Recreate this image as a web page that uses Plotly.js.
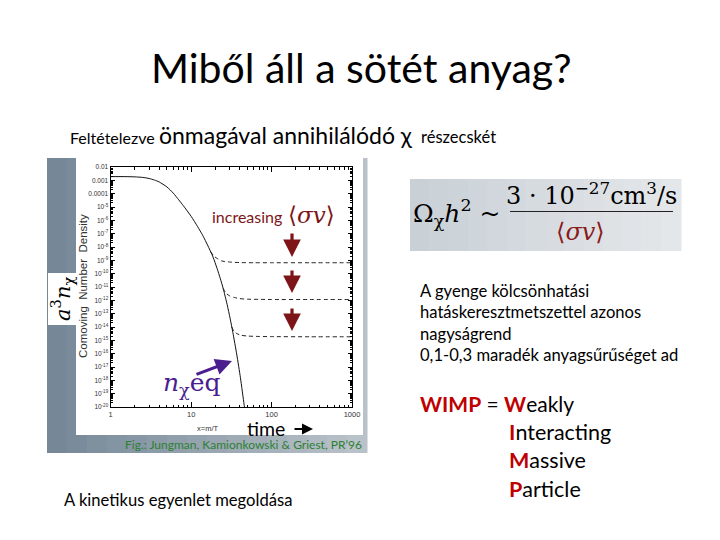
<!DOCTYPE html>
<html>
<head>
<meta charset="utf-8">
<script src="https://cdn.plot.ly/plotly-3.0.1.min.js"></script>
<style>html,body{margin:0;padding:0;background:#fff;}#chart{width:720px;height:540px;}</style>
</head>
<body>
<div id="chart"></div>
<script>
// ---- data ----
const eqX = [1, 1.5, 2, 2.5, 3, 3.5, 4, 5, 6, 7, 8, 10, 12, 14, 16, 18.7, 21, 23, 25, 28, 30.5, 33, 37, 41, 45.5, 46];
const eqY = [1.9e-3, 1.9e-3, 1.82e-3, 1.66e-3, 1.38e-3, 1.05e-3, 7.6e-4, 3.2e-4, 1.1e-4, 3.5e-5, 1.26e-5, 2e-6, 3.5e-7, 7e-8, 1.4e-8, 1.8e-9, 2.5e-10, 4.5e-11, 8e-12, 5e-13, 4.5e-14, 4e-15, 8e-17, 1.6e-18, 1.6e-20, 1e-20];

const fo1X = [17.5, 19, 21, 24, 30, 40, 60, 100, 300, 1000];
const fo1Y = [4.5e-9, 2.2e-9, 1.4e-9, 9e-10, 7.5e-10, 6.8e-10, 6.6e-10, 6.6e-10, 6.6e-10, 6.6e-10];
const fo2X = [25, 27, 30, 35, 40, 50, 70, 100, 300, 1000];
const fo2Y = [8e-12, 3.5e-12, 2.2e-12, 1.6e-12, 1.35e-12, 1.22e-12, 1.18e-12, 1.15e-12, 1.15e-12, 1.15e-12];
const fo3X = [32, 34, 37, 42, 50, 70, 100, 300, 1000];
const fo3Y = [1e-14, 5e-15, 3.2e-15, 2.4e-15, 2.1e-15, 1.95e-15, 1.9e-15, 1.85e-15, 1.85e-15];

const xTickVals = [1, 10, 100, 1000];
const xTickText = ["1", "10", "100", "1000"];
const yTickVals = [1e-2,1e-3,1e-4,1e-5,1e-6,1e-7,1e-8,1e-9,1e-10,1e-11,1e-12,1e-13,1e-14,1e-15,1e-16,1e-17,1e-18,1e-19,1e-20];
const yTickText = ["0.01","0.001","0.0001","10<sup>-5</sup>","10<sup>-6</sup>","10<sup>-7</sup>","10<sup>-8</sup>","10<sup>-9</sup>","10<sup>-10</sup>","10<sup>-11</sup>","10<sup>-12</sup>","10<sup>-13</sup>","10<sup>-14</sup>","10<sup>-15</sup>","10<sup>-16</sup>","10<sup>-17</sup>","10<sup>-18</sup>","10<sup>-19</sup>","10<sup>-20</sup>"];

const slideTitle = "Miből áll a sötét anyag?";
const textLines = ["A gyenge kölcsönhatási", "hatáskeresztmetszettel azonos", "nagyságrend", "0,1-0,3 maradék anyagsűrűséget ad"];

// ---- helpers ----
const W = 720, H = 540;
const fx = v => v / W;
const fy = v => 1 - v / H;
const SANS = "Lato, 'Open Sans', sans-serif";
const SERIF = "'DejaVu Serif', 'Liberation Serif', serif";
const HELV = "'Liberation Sans', Arial, sans-serif";
const RED = "#c00000";
const DARKRED = "#7d1518";
const PURPLE = "#4b1d8f";

function txt(x, y, text, size, opts) {
  return Object.assign({
    xref: 'paper', yref: 'paper', x: fx(x), y: fy(y), text: text, showarrow: false,
    xanchor: 'left', yanchor: 'middle',
    font: {family: SANS, size: size, color: '#000'}
  }, opts || {});
}
function arrow(hx, hy, tx, ty, color, width) {
  return {
    xref: 'paper', yref: 'paper', x: fx(hx), y: fy(hy), ax: tx - hx, ay: ty - hy,
    text: '', showarrow: true, arrowhead: 2, arrowsize: 1.1, arrowwidth: width, arrowcolor: color,
    standoff: 0, startstandoff: 0
  };
}
function mix(c1, c2, t) {
  const a = [1,3,5].map(i => parseInt(c1.substr(i,2),16));
  const b = [1,3,5].map(i => parseInt(c2.substr(i,2),16));
  return 'rgb(' + a.map((v,k) => Math.round(v + (b[k]-v)*t)).join(',') + ')';
}
function gradientRects(x0, x1, y0, y1, c1, c2, n) {
  const out = [];
  for (let i = 0; i < n; i++) {
    const a = x0 + (x1 - x0) * i / n, b = x0 + (x1 - x0) * (i + 1) / n + 0.5;
    out.push({type: 'rect', xref: 'paper', yref: 'paper', x0: fx(a), x1: fx(b), y0: fy(y1), y1: fy(y0),
      fillcolor: mix(c1, c2, i / (n - 1)), line: {width: 0}, layer: 'below'});
  }
  return out;
}

const dashed = {color: '#222', width: 1, dash: '4px,3px'};
const traces = [
  {x: eqX, y: eqY, type: 'scatter', mode: 'lines', line: {color: '#111', width: 1, shape: 'spline', smoothing: 0.6}, hoverinfo: 'skip'},
  {x: fo1X, y: fo1Y, type: 'scatter', mode: 'lines', line: Object.assign({shape: 'spline', smoothing: 0.6}, dashed), hoverinfo: 'skip'},
  {x: fo2X, y: fo2Y, type: 'scatter', mode: 'lines', line: Object.assign({shape: 'spline', smoothing: 0.6}, dashed), hoverinfo: 'skip'},
  {x: fo3X, y: fo3Y, type: 'scatter', mode: 'lines', line: Object.assign({shape: 'spline', smoothing: 0.6}, dashed), hoverinfo: 'skip'}
];

const shapes = [].concat(
  // picture frame of the figure (gray, lighter towards the right)
  gradientRects(47, 367, 158, 453, '#768898', '#b9c2c8', 16),
  [
    {type: 'rect', xref: 'paper', yref: 'paper', x0: fx(76), x1: fx(363), y0: fy(435), y1: fy(158), fillcolor: '#ffffff', line: {width: 0}, layer: 'below'},
    {type: 'rect', xref: 'paper', yref: 'paper', x0: fx(48), x1: fx(76), y0: fy(325), y1: fy(273), fillcolor: '#ffffff', line: {width: 0}, layer: 'below'}
  ],
  // formula box (light gray gradient)
  gradientRects(410, 681, 179, 251, '#c9d0d6', '#e4e7ea', 14),
  [
    {type: 'line', xref: 'paper', yref: 'paper', x0: fx(510), x1: fx(673), y0: fy(211.5), y1: fy(211.5), line: {color: '#222', width: 1}}
  ]
);

const annotations = [
  txt(361, 67, slideTitle, 41, {xanchor: 'center'}),
  txt(68, 137, "Feltételezve", 16),
  txt(157, 135, "önmagával annihilálódó χ", 23),
  txt(419, 137, "részecskét", 16.5),
  // inside the figure
  txt(83, 286, "Comoving  Number  Density", 11.5, {textangle: -90, xanchor: 'center', font: {family: HELV, size: 11.5, color: '#333'}}),
  txt(62, 299, "<i>a</i><sup>3</sup><i>n</i><sub>χ</sub>", 21, {textangle: -90, xanchor: 'center', font: {family: SERIF, size: 21, color: '#000'}}),
  txt(210, 216, "increasing", 16, {font: {family: SANS, size: 16, color: DARKRED}}),
  txt(286, 215, "⟨<i>σv</i>⟩", 23, {font: {family: SERIF, size: 23, color: DARKRED}}),
  txt(161, 384, "<i>n</i><sub>χ</sub>eq", 25, {font: {family: SERIF, size: 25, color: PURPLE}}),
  txt(208, 428, "x=m/T", 7.5, {xanchor: 'center', font: {family: HELV, size: 7.5, color: '#333'}}),
  txt(245, 428, "time", 19.5, {font: {family: SANS, size: 19.5, color: '#000'}}),
  arrow(313, 429, 293, 429, '#000', 2),
  txt(364, 444, "Fig.: Jungman, Kamionkowski &amp; Griest, PR’96", 12, {xanchor: 'right', font: {family: SANS, size: 12, color: '#2c7f33'}}),
  arrow(292, 257, 292, 232, DARKRED, 3.2),
  arrow(292, 293, 292, 269, DARKRED, 3.2),
  arrow(292, 331, 292, 307, DARKRED, 3.2),
  arrow(232, 361, 195, 375, PURPLE, 3),
  // formula
  txt(411, 213, "Ω<sub>χ</sub><i>h</i><sup>2</sup> ~", 25, {font: {family: SERIF, size: 25, color: '#000'}}),
  txt(591, 194, "3 · 10<sup>−27</sup>cm<sup>3</sup>/s", 24, {xanchor: 'center', font: {family: SERIF, size: 24, color: '#000'}}),
  txt(580, 232, "⟨<i>σv</i>⟩", 24, {xanchor: 'center', font: {family: SERIF, size: 24, color: '#8b1a1a'}}),
  // text block
  txt(418, 291, textLines[0], 16.6),
  txt(418, 312, textLines[1], 16.6),
  txt(418, 334, textLines[2], 16.6),
  txt(418, 355, textLines[3], 16.6),
  txt(418, 403, "<b style='color:" + RED + "'>WIMP</b> = <b style='color:" + RED + "'>W</b>eakly", 21),
  txt(507, 432, "<b style='color:" + RED + "'>I</b>nteracting", 21.5),
  txt(507, 460, "<b style='color:" + RED + "'>M</b>assive", 21.5),
  txt(507, 489, "<b style='color:" + RED + "'>P</b>article", 21.5),
  txt(62, 500, "A kinetikus egyenlet megoldása", 16.6)
];

const layout = {
  width: W, height: H,
  margin: {l: 0, r: 0, t: 0, b: 0},
  paper_bgcolor: '#ffffff', plot_bgcolor: '#ffffff',
  showlegend: false,
  xaxis: {
    type: 'log', range: [0, 3], domain: [fx(110.7), fx(352)],
    tickmode: 'array', tickvals: xTickVals, ticktext: xTickText,
    ticks: 'inside', ticklen: 5, tickcolor: '#000', mirror: 'allticks',
    showline: true, linecolor: '#000', linewidth: 1.2, showgrid: false, zeroline: false,
    tickfont: {family: HELV, size: 7.5, color: '#333'},
    minor: {ticks: 'inside', ticklen: 2.5, tickcolor: '#000', dtick: 'D1', showgrid: false}
  },
  yaxis: {
    type: 'log', range: [-20, -2], domain: [fy(407), fy(167)],
    tickmode: 'array', tickvals: yTickVals, ticktext: yTickText,
    ticks: 'inside', ticklen: 4, tickcolor: '#000', mirror: 'allticks',
    showline: true, linecolor: '#000', linewidth: 1.2, showgrid: false, zeroline: false,
    tickfont: {family: HELV, size: 6.5, color: '#333'},
    minor: {ticks: 'inside', ticklen: 2, tickcolor: '#000', dtick: 'D1', showgrid: false}
  },
  shapes: shapes,
  annotations: annotations
};

Plotly.newPlot('chart', traces, layout, {staticPlot: true, displayModeBar: false});
</script>
</body>
</html>
